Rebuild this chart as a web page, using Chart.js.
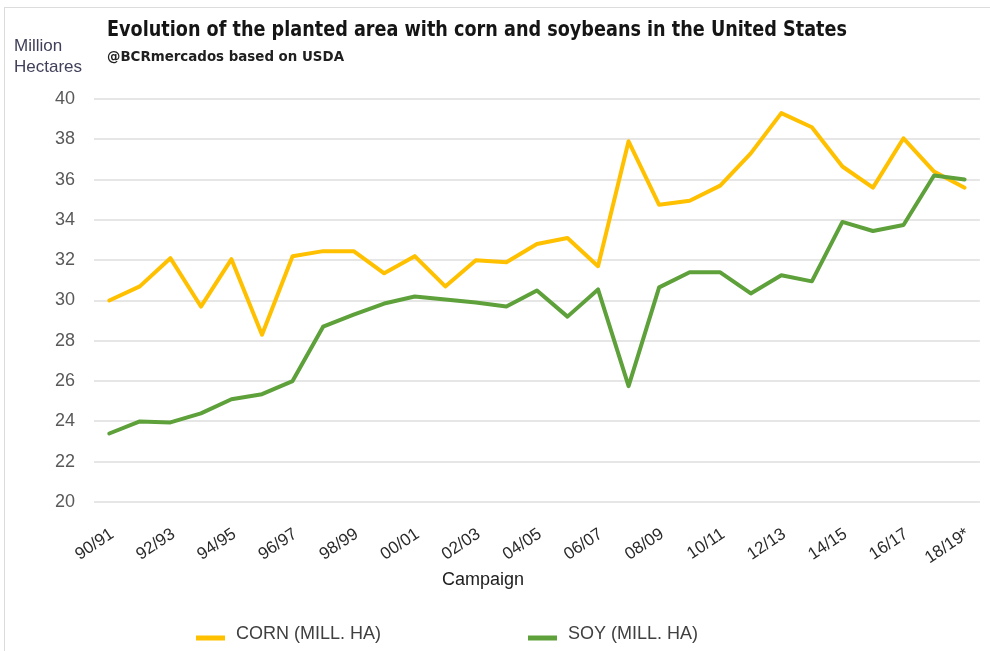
<!DOCTYPE html>
<html>
<head>
<meta charset="utf-8">
<title>Corn and soybeans planted area - United States</title>
<script src="https://cdn.jsdelivr.net/npm/chart.js@4.4.0/dist/chart.umd.min.js"></script>
<style>
    body { margin: 0; background: #fff; }
    #wrap { position: relative; width: 990px; height: 651px; overflow: hidden; }
    #frame { position: absolute; left: 4px; top: 7px; right: 0; bottom: 0;
             border-top: 1px solid #dcdcdc; border-left: 1px solid #dcdcdc; }
    .txt { position: absolute; white-space: nowrap; transform-origin: left top; }
    #title { left: 107px; top: 16px; font: bold 22px "Liberation Sans Narrow", "DejaVu Sans Condensed", sans-serif;
             color: #151515; line-height: 26px; }
    #subtitle { left: 107px; top: 48px; font: bold 14px "Liberation Sans Narrow", "DejaVu Sans Condensed", sans-serif;
                color: #202020; line-height: 17px; }
    #yname { left: 14px; top: 35px; font: 17px "Liberation Sans", Arial, sans-serif; color: #40405a; line-height: 21px; }
    canvas { position: absolute; left: 0; top: 0; }
</style>
</head>
<body>
<div id="wrap">
    <div id="frame"></div>
    <canvas id="chart" width="990" height="651"></canvas>
    <div class="txt" id="title">Evolution of the planted area with corn and soybeans in the United States</div>
    <div class="txt" id="subtitle">@BCRmercados based on USDA</div>
    <div class="txt" id="yname">Million<br>Hectares</div>
</div>
<script>
// Campaigns (x axis)
const campaigns = ['90/91', '91/92', '92/93', '93/94', '94/95', '95/96', '96/97', '97/98', '98/99', '99/00',
    '00/01', '01/02', '02/03', '03/04', '04/05', '05/06', '06/07', '07/08', '08/09', '09/10',
    '10/11', '11/12', '12/13', '13/14', '14/15', '15/16', '16/17', '17/18', '18/19*'];

// Planted area, million hectares
const cornArea = [30.0, 30.7, 32.1, 29.7, 32.05, 28.3, 32.2, 32.45, 32.45, 31.35,
    32.2, 30.7, 32.0, 31.9, 32.8, 33.1, 31.7, 37.9, 34.75, 34.95,
    35.7, 37.3, 39.3, 38.6, 36.65, 35.6, 38.05, 36.4, 35.6];
const soyArea = [23.4, 24.0, 23.95, 24.4, 25.1, 25.35, 26.0, 28.7, 29.3, 29.85,
    30.2, 30.05, 29.9, 29.7, 30.5, 29.2, 30.55, 25.75, 30.65, 31.4,
    31.4, 30.35, 31.25, 30.95, 33.9, 33.45, 33.75, 36.2, 36.0];

const seriesNames = ['CORN (MILL. HA)', 'SOY (MILL. HA)'];
const seriesColors = ['#FFC000', '#5EA13B'];

// y axis range
const yMin = 20, yMax = 40, yStep = 2;

// Stretch a text block so it spans the same width as in the original
function fitWidth(id, target) {
    const el = document.getElementById(id);
    const w = el.getBoundingClientRect().width;
    el.style.transform = 'scaleX(' + (target / w) + ')';
}

// x axis name and legend, drawn below the axis (the original sits them left of centre)
const legendX = [196, 528];
const bottomLegend = {
    id: 'bottomLegend',
    afterDraw(chart) {
        const ctx = chart.ctx;
        ctx.save();
        ctx.fillStyle = '#202020';
        ctx.font = '18px "Liberation Sans", Arial, sans-serif';
        ctx.textAlign = 'center';
        ctx.textBaseline = 'middle';
        ctx.fillText('Campaign', 483, 580);

        ctx.textAlign = 'left';
        chart.data.datasets.forEach(function(ds, i) {
            const x = legendX[i];
            ctx.strokeStyle = ds.borderColor;
            ctx.lineWidth = 5;
            ctx.beginPath();
            ctx.moveTo(x, 638);
            ctx.lineTo(x + 29, 638);
            ctx.stroke();
            ctx.fillStyle = '#404040';
            ctx.fillText(ds.label, x + 40, 634);
        });
        ctx.restore();
    }
};

const ctx = document.getElementById('chart').getContext('2d');
new Chart(ctx, {
    type: 'line',
    data: {
        labels: campaigns,
        datasets: [{
            label: seriesNames[0],
            data: cornArea,
            borderColor: seriesColors[0],
            order: 1
        }, {
            label: seriesNames[1],
            data: soyArea,
            borderColor: seriesColors[1],
            order: 0
        }]
    },
    options: {
        responsive: false,
        animation: false,
        layout: { padding: { top: 99, left: 0, right: -2, bottom: 50 } },
        elements: {
            line: { borderWidth: 4, tension: 0, borderJoinStyle: 'round', borderCapStyle: 'round', fill: false },
            point: { radius: 0, hoverRadius: 0 }
        },
        plugins: {
            legend: { display: false },
            tooltip: { enabled: false }
        },
        scales: {
            x: {
                offset: true,
                grid: { display: false },
                border: { display: false },
                afterFit: function(scale) { scale.height = 99; },
                ticks: {
                    autoSkip: false,
                    minRotation: 34,
                    maxRotation: 34,
                    padding: 14,
                    labelOffset: 3,
                    color: '#2a2a2a',
                    font: { family: '"Liberation Sans", Arial, sans-serif', size: 17 },
                    callback: function(value, index) {
                        return index % 2 === 0 ? campaigns[index] : '';
                    }
                }
            },
            y: {
                min: yMin,
                max: yMax,
                afterFit: function(scale) { scale.width = 94; },
                grid: { color: '#e6e6e6', lineWidth: 2, drawTicks: false },
                border: { display: false },
                ticks: {
                    stepSize: yStep,
                    padding: 19,
                    color: '#595959',
                    font: { family: '"Liberation Sans", Arial, sans-serif', size: 18 }
                }
            }
        }
    },
    plugins: [bottomLegend]
});

fitWidth('title', 740);
fitWidth('subtitle', 237);
</script>
</body>
</html>
